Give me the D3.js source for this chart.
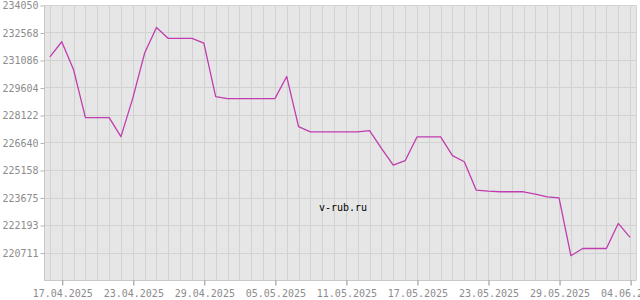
<!DOCTYPE html>
<html>
<head>
<meta charset="utf-8">
<script src="https://cdn.jsdelivr.net/npm/d3@7"></script>
<style>
  html, body { margin: 0; padding: 0; background: #ffffff; }
  svg { display: block; }
  text { font-family: "DejaVu Sans Mono", "Liberation Mono", monospace; }
</style>
</head>
<body>
<svg id="chart" width="640" height="300"></svg>
<script>
const dates = [
  "2025-04-16","2025-04-17","2025-04-18","2025-04-19","2025-04-20","2025-04-21","2025-04-22","2025-04-23",
  "2025-04-24","2025-04-25","2025-04-26","2025-04-27","2025-04-28","2025-04-29","2025-04-30",
  "2025-05-01","2025-05-02","2025-05-03","2025-05-04","2025-05-05","2025-05-06","2025-05-07","2025-05-08",
  "2025-05-09","2025-05-10","2025-05-11","2025-05-12","2025-05-13","2025-05-14","2025-05-15","2025-05-16",
  "2025-05-17","2025-05-18","2025-05-19","2025-05-20","2025-05-21","2025-05-22","2025-05-23","2025-05-24",
  "2025-05-25","2025-05-26","2025-05-27","2025-05-28","2025-05-29","2025-05-30","2025-05-31",
  "2025-06-01","2025-06-02","2025-06-03","2025-06-04"
];
const values = [
  231258, 232068, 230556, 227980, 227980, 227980, 226954, 229028,
  231458, 232840, 232246, 232246, 232246, 231998, 229114,
  229006, 229006, 229006, 229006, 229006, 230194, 227494, 227208,
  227208, 227208, 227208, 227208, 227278, 226328, 225426, 225658,
  226938, 226938, 226938, 225928, 225604, 224076, 224022, 223984,
  223984, 223984, 223860, 223714, 223660, 220539, 220928,
  220928, 220928, 222278, 221522
];
const yTickLabels = [219229, 220711, 222193, 223675, 225158, 226640, 228122, 229604, 231086, 232568, 234050];
const xTickLabels = ["2025-04-17","2025-04-23","2025-04-29","2025-05-05","2025-05-11","2025-05-17","2025-05-23","2025-05-29","2025-06-04"];
const xDomain = ["2025-04-15T12:00:00Z", "2025-06-04T12:00:00Z"];
const watermark = "v-rub.ru";

const parse = s => new Date(s.length === 10 ? s + "T00:00:00Z" : s);
const svg = d3.select("#chart");
const L = 44, R = 636, T = 5, B = 280;

const x = d3.scaleUtc().domain(xDomain.map(parse)).range([L, R]);
const y = d3.scaleLinear().domain([yTickLabels[0], yTickLabels[yTickLabels.length - 1]]).range([B, T]);

// background
svg.append("rect").attr("x", L).attr("y", T).attr("width", R - L).attr("height", B - T).attr("fill", "#e6e6e6");

// vertical grid at each noon
const gridDays = d3.utcHour.every(24).range(parse(xDomain[0]), new Date(parse(xDomain[1]).getTime() + 1));
svg.append("g").selectAll("line").data(gridDays).join("line")
  .attr("x1", d => Math.round(x(d)) + 0.5).attr("x2", d => Math.round(x(d)) + 0.5)
  .attr("y1", T).attr("y2", B)
  .attr("stroke", "#d2d2d2").attr("stroke-width", 1);

// horizontal grid
svg.append("g").selectAll("line").data(yTickLabels).join("line")
  .attr("x1", L).attr("x2", R)
  .attr("y1", d => Math.round(y(d)) + 0.5).attr("y2", d => Math.round(y(d)) + 0.5)
  .attr("stroke", "#d2d2d2").attr("stroke-width", 1);

// axes
const yAxis = d3.axisLeft(y).tickValues(yTickLabels.slice(1)).tickSize(4).tickPadding(2).tickFormat(d3.format("d"));
const gy = svg.append("g").attr("transform", `translate(${L + 0.5},0.5)`).call(yAxis);
gy.select(".domain").attr("stroke", "#c8c8c8").attr("d", `M0,${T}V${B}`);
gy.selectAll(".tick line").attr("stroke", "#b4b4b4");
gy.selectAll(".tick text").attr("fill", "#8c8c8c").attr("font-size", 10)
  .attr("font-family", "DejaVu Sans Mono, monospace");

const xAxis = d3.axisBottom(x).tickValues(xTickLabels.map(parse)).tickSize(5).tickPadding(4)
  .tickFormat(d3.utcFormat("%d.%m.%Y"));
const gx = svg.append("g").attr("transform", `translate(0.5,${B + 0.5})`).call(xAxis);
gx.select(".domain").attr("stroke", "#c8c8c8").attr("d", `M${L},0H${R}`);
gx.selectAll(".tick line").attr("stroke", "#8c8c8c");
gx.selectAll(".tick text").attr("fill", "#8c8c8c").attr("font-size", 10)
  .attr("font-family", "DejaVu Sans Mono, monospace");

// top & right border
svg.append("path").attr("d", `M${L},${T + 0.5}H${R + 0.5}V${B}`).attr("fill", "none").attr("stroke", "#d2d2d2");

// line
const line = d3.line().x((d, i) => x(parse(dates[i]))).y(d => y(d));
svg.append("path").datum(values).attr("d", line)
  .attr("fill", "none").attr("stroke", "#c03cb0").attr("stroke-width", 1.3)
  .attr("stroke-linejoin", "round");

// watermark
svg.append("text").attr("x", 343).attr("y", 211).attr("text-anchor", "middle")
  .attr("font-size", 10).attr("fill", "#000").text(watermark);
</script>
</body>
</html>
